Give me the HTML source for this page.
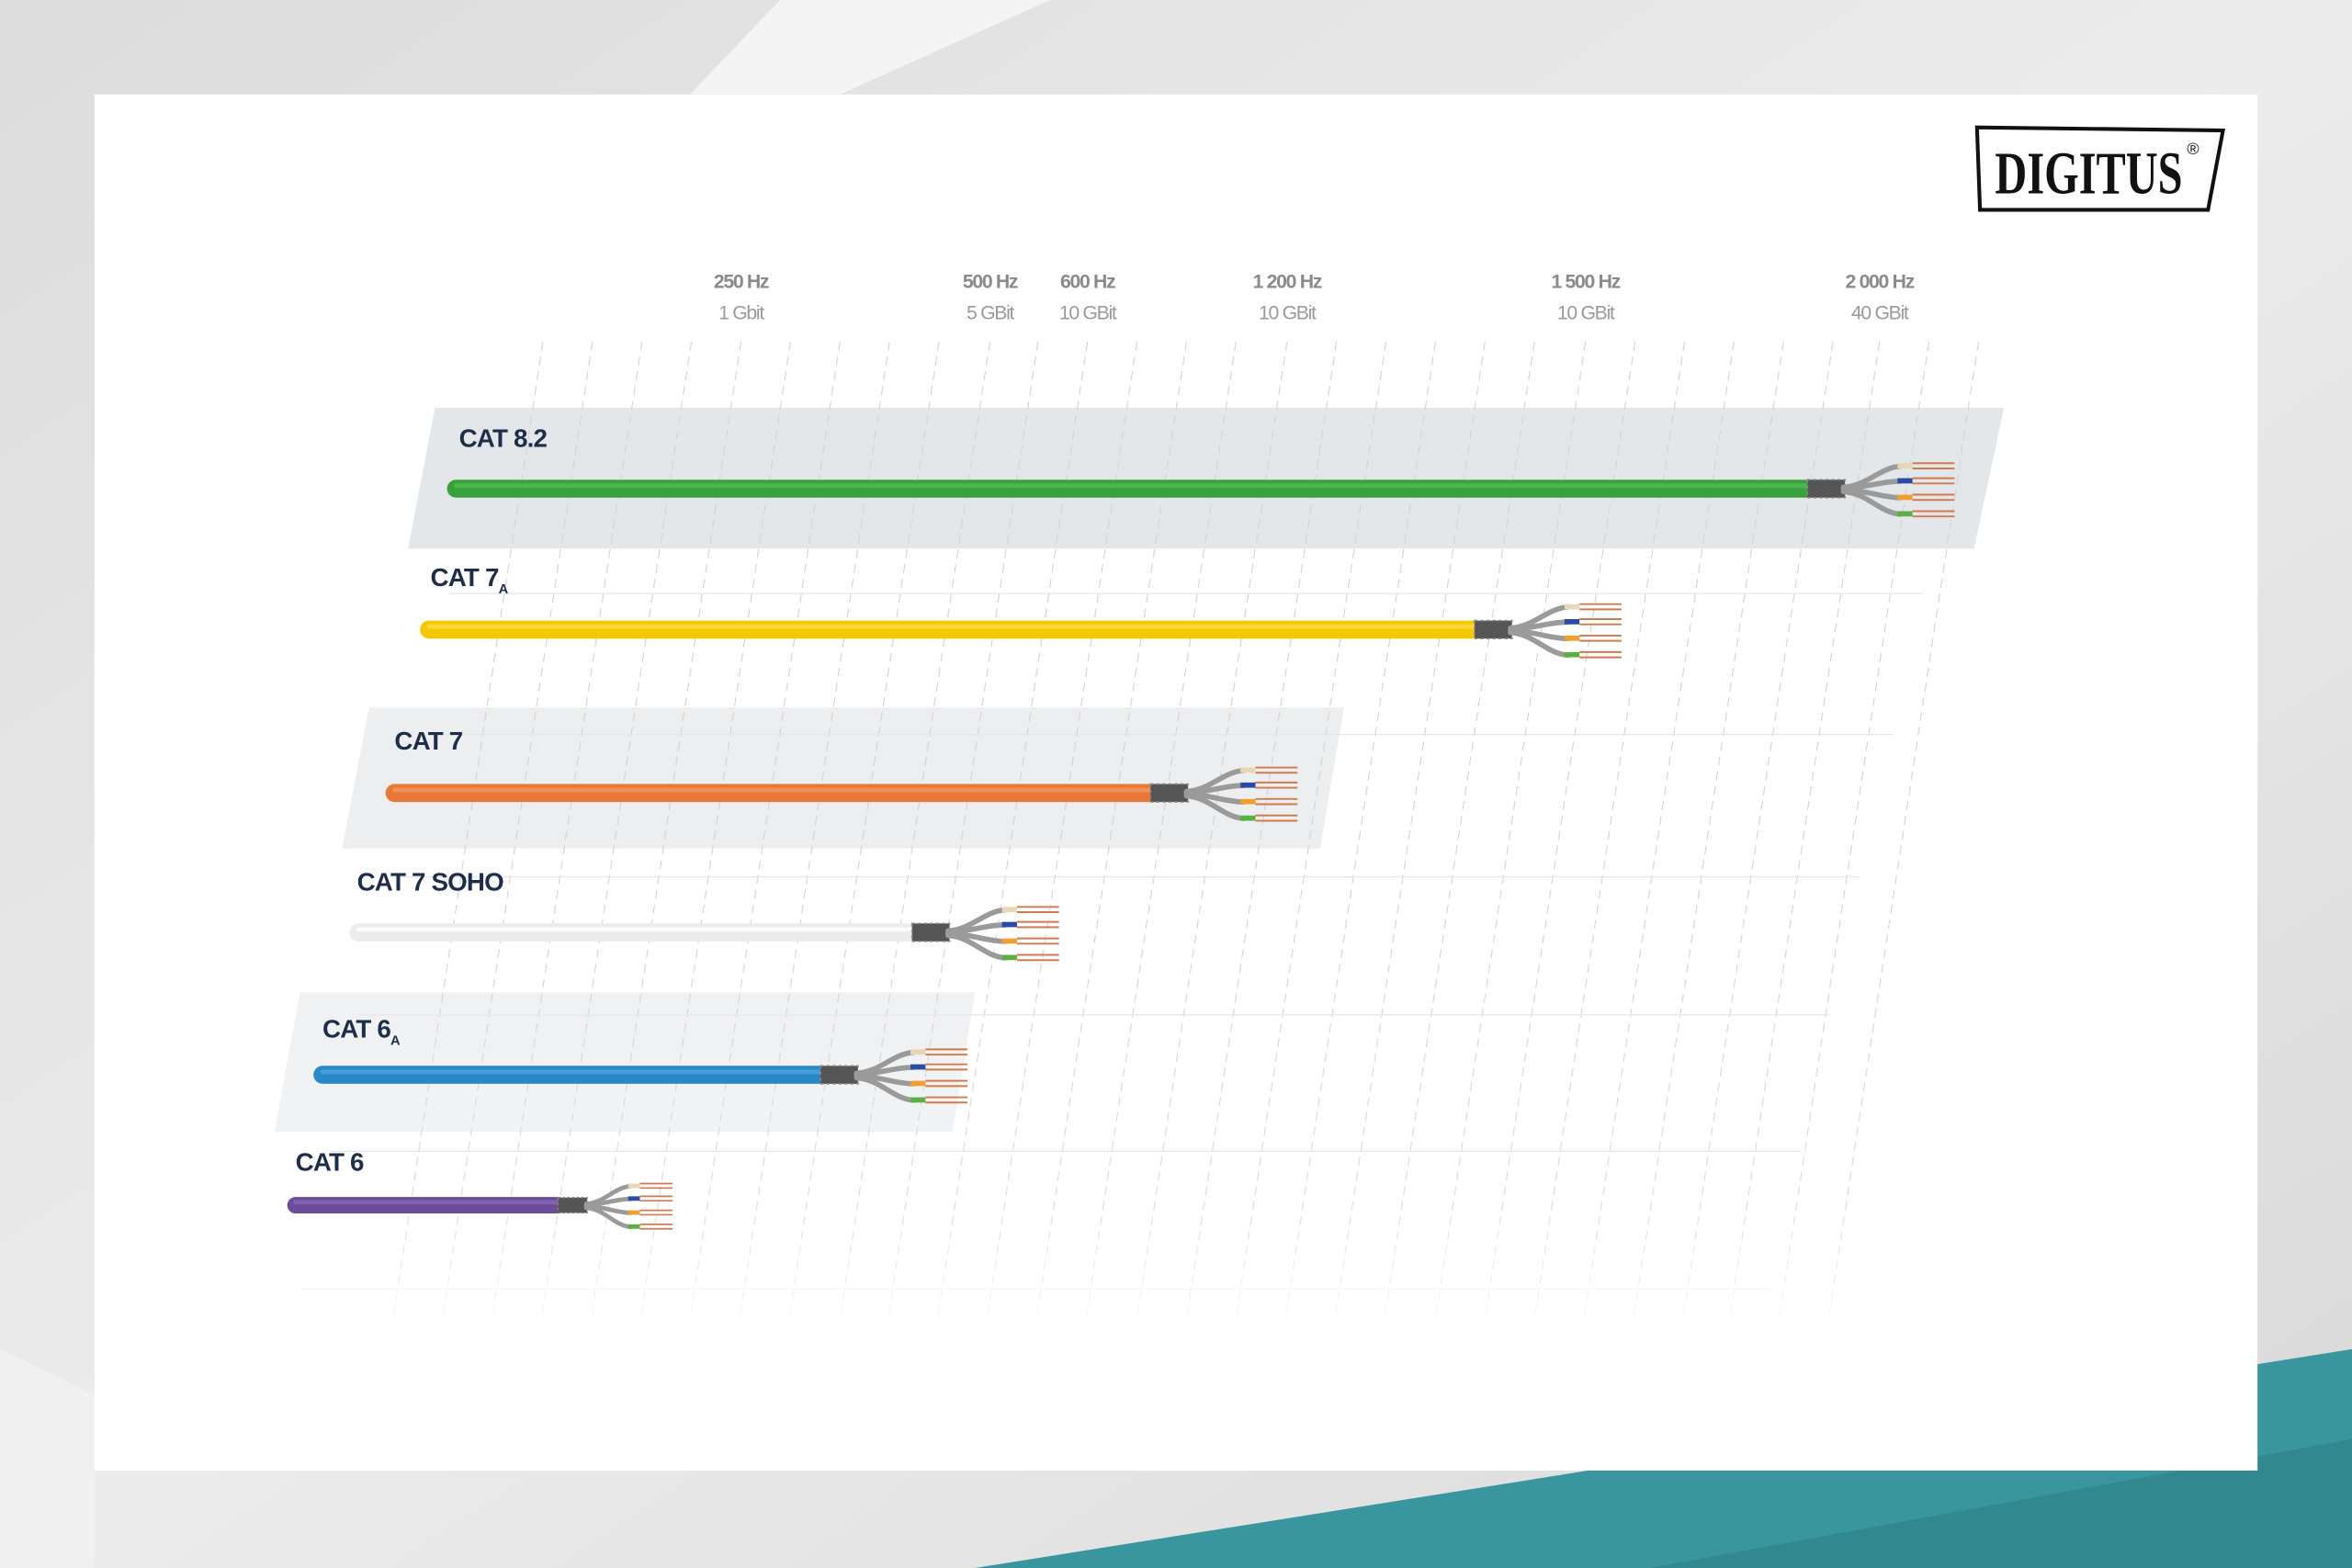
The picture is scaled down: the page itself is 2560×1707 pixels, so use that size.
<!DOCTYPE html>
<html><head><meta charset="utf-8"><style>
html,body{margin:0;padding:0;background:#e6e6e6;}
svg{display:block;}
</style></head><body>
<svg width="2560" height="1707" viewBox="0 0 1568 1046" preserveAspectRatio="none" xmlns="http://www.w3.org/2000/svg">
<defs>
<linearGradient id="bg" x1="0" y1="0" x2="1" y2="1"><stop offset="0" stop-color="#dcdcdc"/><stop offset="0.5" stop-color="#ececec"/><stop offset="1" stop-color="#d8d8d8"/></linearGradient>
<linearGradient id="gf" x1="0" y1="0" x2="0" y2="1"><stop offset="0" stop-color="#fff" stop-opacity="0"/><stop offset="0.7" stop-color="#fff" stop-opacity="0.2"/><stop offset="1" stop-color="#fff" stop-opacity="0.9"/></linearGradient>
<g id="fan">
 <rect x="0" y="-6" width="25" height="12" fill="#555"/>
 <rect x="0" y="-6" width="25" height="12" fill="none" stroke="#888" stroke-width="1" stroke-dasharray="2 2"/>
 <g fill="none" stroke="#9a9a9a" stroke-width="3.5" stroke-linecap="round">
  <path d="M24,-1 C40,-2 48,-14 62,-15"/>
  <path d="M24,0 C40,-1 50,-5 62,-5"/>
  <path d="M24,1 C40,1 50,6 62,6"/>
  <path d="M24,2 C40,3 48,16 62,17"/>
 </g>
 <rect x="60" y="-17" width="10" height="3.5" fill="#e8d6b8"/>
 <rect x="60" y="-7" width="10" height="3.5" fill="#2a4aa8"/>
 <rect x="60" y="4" width="10" height="3.5" fill="#f0a030"/>
 <rect x="60" y="15" width="10" height="3.5" fill="#5ab040"/>
 <g stroke="#d07a50" stroke-width="1.2">
  <path d="M70,-17 H98 M70,-13.5 H98 M70,-7 H98 M70,-3.5 H98 M70,4 H98 M70,7.5 H98 M70,15 H98 M70,18.5 H98"/>
 </g>
</g>
</defs>
<rect width="1568" height="1046" fill="url(#bg)"/>
<polygon points="520,0 700,0 560,63 460,63" fill="#f4f4f4"/>
<polygon points="0,900 63,930 63,1046 0,1046" fill="#f0f0f0"/>
<polygon points="650,1046 1568,900 1568,1046" fill="#3a969e"/>
<polygon points="1100,1046 1568,960 1568,1046" fill="#32888f"/>
<rect x="63" y="63" width="1442" height="918" fill="#ffffff"/>

<!-- bands -->
<polygon points="290,272 1336,272 1316,366 272,366" fill="#e4e7ea"/>
<polygon points="246,472 896,472 880,566 228,566" fill="#eceef0"/>
<polygon points="200,662 650,662 635,755 183,755" fill="#eef0f2"/>

<!-- grid -->
<g stroke="#d4d4d4" stroke-width="0.7" stroke-dasharray="6 4" fill="none">
<path d="M362,228 L262,880"/><path d="M395,228 L295,880"/><path d="M428,228 L328,880"/><path d="M461,228 L361,880"/>
<path d="M494,228 L394,880"/><path d="M527,228 L427,880"/><path d="M560,228 L460,880"/><path d="M593,228 L493,880"/>
<path d="M626,228 L526,880"/><path d="M660,228 L560,880"/><path d="M692,228 L592,880"/><path d="M725,228 L625,880"/>
<path d="M758,228 L658,880"/><path d="M791,228 L691,880"/><path d="M824,228 L724,880"/><path d="M858,228 L758,880"/>
<path d="M891,228 L791,880"/><path d="M924,228 L824,880"/><path d="M957,228 L857,880"/><path d="M990,228 L890,880"/>
<path d="M1023,228 L923,880"/><path d="M1057,228 L957,880"/><path d="M1090,228 L990,880"/><path d="M1123,228 L1023,880"/>
<path d="M1156,228 L1056,880"/><path d="M1189,228 L1089,880"/><path d="M1222,228 L1122,880"/><path d="M1253,228 L1153,880"/>
<path d="M1286,228 L1186,880"/><path d="M1319,228 L1219,880"/>
</g>
<g stroke="#e6e6e6" stroke-width="0.8">
<path d="M300,396 H1282"/><path d="M280,490 H1262"/><path d="M260,585 H1240"/><path d="M240,677 H1220"/><path d="M220,768 H1200"/><path d="M200,860 H1180"/>
</g>
<rect x="180" y="600" width="1150" height="290" fill="url(#gf)"/>

<!-- header labels -->
<g font-family="Liberation Sans, sans-serif" text-anchor="middle">
<g font-size="13" font-weight="bold" fill="#8a8a8a" letter-spacing="-0.8">
<text x="494" y="192">250 Hz</text><text x="660" y="192">500 Hz</text><text x="725" y="192">600 Hz</text>
<text x="858" y="192">1 200 Hz</text><text x="1057" y="192">1 500 Hz</text><text x="1253" y="192">2 000 Hz</text>
</g>
<g font-size="13" fill="#9a9a9a" letter-spacing="-0.8">
<text x="494" y="213">1 Gbit</text><text x="660" y="213">5 GBit</text><text x="725" y="213">10 GBit</text>
<text x="858" y="213">10 GBit</text><text x="1057" y="213">10 GBit</text><text x="1253" y="213">40 GBit</text>
</g>
</g>

<!-- logo -->
<polygon points="1318,85 1482,87 1472,140 1320,140" fill="#fff" stroke="#111" stroke-width="2.5"/>
<text x="1330" y="129" font-family="Liberation Serif, serif" font-weight="bold" font-size="40" fill="#111" textLength="125" lengthAdjust="spacingAndGlyphs">DIGITUS</text>
<text x="1458" y="103" font-family="Liberation Sans, sans-serif" font-size="11" fill="#111">®</text>

<!-- cables -->
<g stroke-linecap="round">
<line x1="304" y1="326" x2="1205" y2="326" stroke="#3aa23c" stroke-width="12"/>
<line x1="304" y1="324" x2="1205" y2="324" stroke="#5cc05a" stroke-width="3" opacity="0.6"/>
<line x1="286" y1="420" x2="983" y2="420" stroke="#f4c800" stroke-width="12"/>
<line x1="286" y1="418" x2="983" y2="418" stroke="#ffe050" stroke-width="3" opacity="0.7"/>
<line x1="263" y1="529" x2="767" y2="529" stroke="#e8773a" stroke-width="12"/>
<line x1="263" y1="527" x2="767" y2="527" stroke="#f59a60" stroke-width="3" opacity="0.7"/>
<line x1="239" y1="622" x2="608" y2="622" stroke="#ececec" stroke-width="12"/>
<line x1="239" y1="620" x2="608" y2="620" stroke="#fafafa" stroke-width="3"/>
<line x1="215" y1="717" x2="547" y2="717" stroke="#2a88c6" stroke-width="12"/>
<line x1="215" y1="715" x2="547" y2="715" stroke="#50a8e0" stroke-width="3" opacity="0.7"/>
<line x1="197" y1="804" x2="372" y2="804" stroke="#6a4c98" stroke-width="11"/>
<line x1="197" y1="802" x2="372" y2="802" stroke="#8a6cb8" stroke-width="3" opacity="0.7"/>
</g>
<use href="#fan" transform="translate(1205,326)"/>
<use href="#fan" transform="translate(983,420)"/>
<use href="#fan" transform="translate(767,529)"/>
<use href="#fan" transform="translate(608,622)"/>
<use href="#fan" transform="translate(547,717)"/>
<use href="#fan" transform="translate(372,804) scale(0.78,0.85)"/>

<!-- cable labels -->
<g font-family="Liberation Sans, sans-serif" font-weight="bold" font-size="17" fill="#1e2d4a" letter-spacing="-0.5">
<text x="306" y="298">CAT 8.2</text>
<text x="287" y="391">CAT 7<tspan font-size="9" dy="5">A</tspan></text>
<text x="263" y="500">CAT 7</text>
<text x="238" y="594">CAT 7 SOHO</text>
<text x="215" y="692">CAT 6<tspan font-size="9" dy="5">A</tspan></text>
<text x="197" y="781">CAT 6</text>
</g>
</svg>
</body></html>
